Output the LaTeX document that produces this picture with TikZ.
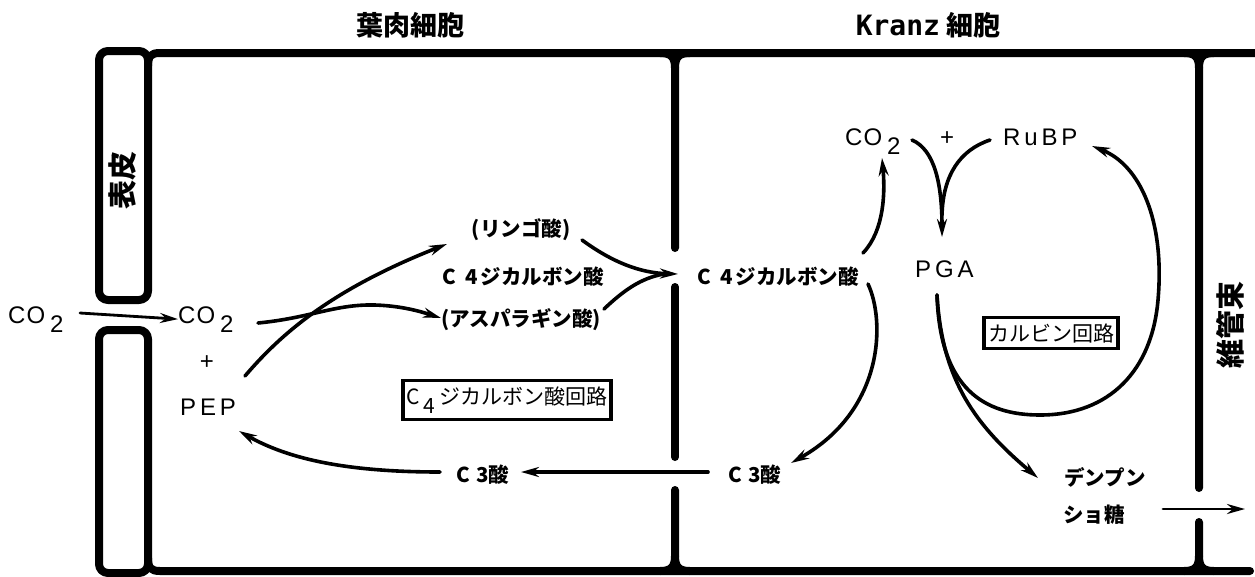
\documentclass[tikz,border=0pt]{standalone}
\usepackage{fontspec}
\usetikzlibrary{arrows.meta}
\setmainfont{Liberation Sans}
\newfontfamily\jp{Noto Sans CJK JP}
\newfontfamily\lat[LetterSpace=16]{Liberation Sans}
\newfontfamily\monob{DejaVu Sans Mono Bold}
\newcommand\cotwo{C\kern1pt O\kern5pt\raisebox{-9pt}{2}}
\begin{document}
\begin{tikzpicture}[x=1pt,y=-1pt,
  wall/.style={line width=8pt, line cap=round, line join=round},
  arr/.style={line width=3.6pt, line cap=round, -{Stealth[length=18pt,width=10pt]}},
  ln/.style={line width=3.6pt, line cap=round},
  jlbl/.style={font=\jp\bfseries\fontsize{20.5}{20.5}\selectfont, inner sep=0pt},
  latin/.style={font=\lat\fontsize{24}{24}\selectfont, inner sep=0pt},
  title/.style={font=\jp\bfseries\fontsize{27}{27}\selectfont, inner sep=0pt},
  vlbl/.style={font=\jp\bfseries\fontsize{29}{29}\selectfont, inner sep=0pt, rotate=90},
  boxed/.style={draw, line width=3.6pt, inner xsep=4pt, inner ysep=6pt, font=\jp\fontsize{21}{21}\selectfont}]
\useasboundingbox (0,0) rectangle (1255,576);
% epidermis
\draw[wall, rounded corners=9pt] (99,51) rectangle (148,300);
\draw[wall, rounded corners=9pt] (99,330) rectangle (148,573);
% top and bottom cell lines
\draw[wall] (148,66) .. controls (148,56) and (151,53) .. (160,53) -- (1258,53);
\draw[wall] (148,558) .. controls (148,568) and (151,571) .. (160,571) -- (1250,571);
% wall between mesophyll and Kranz
\draw[wall] (675,248) -- (675,68) .. controls (675,57) and (671,53) .. (660,53);
\draw[wall] (675,68) .. controls (675,57) and (679,53) .. (690,53);
\draw[wall] (675,287) -- (675,457);
\draw[wall] (675,490) -- (675,556) .. controls (675,567) and (671,571) .. (660,571);
\draw[wall] (675,556) .. controls (675,567) and (679,571) .. (690,571);
% wall to vascular bundle
\draw[wall] (1199,488) -- (1199,68) .. controls (1199,57) and (1195,53) .. (1184,53);
\draw[wall] (1199,68) .. controls (1199,57) and (1203,53) .. (1214,53);
\draw[wall] (1199,522) -- (1199,556) .. controls (1199,567) and (1195,571) .. (1184,571);
\draw[wall] (1199,556) .. controls (1199,567) and (1203,571) .. (1214,571);

% titles
\node[title] (t1) at (410,25) {葉肉細胞};
\node[title] (t2) at (928,25) {{\monob\fontsize{28}{28}\selectfont Kranz} 細胞};
\node[vlbl] (hyo) at (123,180) {表皮};
\node[vlbl] (ikan) at (1230,325) {維管束};

% mesophyll nodes
\node[latin, anchor=base west] (co2L) at (8,323) {\cotwo};
\node[latin, anchor=base west] (co2M) at (178,323) {\cotwo};
\node[latin] (plus1) at (207,363) {+};
\node[latin, anchor=base west] (pep) at (180,415) {PEP};
\node[jlbl] (ringo) at (521,230) {(リンゴ酸)};
\node[jlbl] (c4m) at (523,277) {C\kern9pt 4\kern3pt ジカルボン酸};
\node[jlbl] (asp) at (521,320) {(アスパラギン酸)};
\node[boxed] (c4box) at (507,400) {C\raisebox{-9pt}{\kern3pt 4}\kern4pt ジカルボン酸回路};
\node[jlbl] (c3m) at (483,475) {C\kern6pt 3酸};

% Kranz nodes
\node[jlbl] (c4k) at (778,277) {C\kern9pt 4\kern3pt ジカルボン酸};
\node[latin, anchor=base west] (co2K) at (845,145) {\cotwo};
\node[latin] (plus2) at (947,139) {+};
\node[latin, anchor=base west] (rubp) at (1003,145) {RuBP};
\node[latin, anchor=base west] (pga) at (915,277) {PGA};
\node[boxed] (calbox) at (1051,333) {カルビン回路};
\node[jlbl] (c3k) at (755,475) {C\kern6pt 3酸};
\node[jlbl] (denp) at (1105,477) {デンプン};
\node[jlbl] (shoto) at (1094,515) {ショ糖};

% connector end points
\coordinate (a1s) at (80,313);
\coordinate (a2s) at (258,323);
\coordinate (a2e) at (441,318);
\coordinate (a3s) at (245,376);
\coordinate (a3e) at (447,244);
\coordinate (a4s) at (582,240);
\coordinate (a4e) at (678,274);
\coordinate (a5s) at (604,309);
\coordinate (a6s) at (863,253);
\coordinate (a6e) at (882,158);
\coordinate (a7s) at (912,140);
\coordinate (a7e) at (942,237);
\coordinate (a8s) at (990,140);
\coordinate (a9s) at (868,284);
\coordinate (a9e) at (791,463);
\coordinate (a10s) at (708,472);
\coordinate (a10e) at (521,472);
\coordinate (a11s) at (440,472);
\coordinate (a11e) at (239,431);
\coordinate (a12s) at (937,295);
\coordinate (a12e) at (1092,146);
\coordinate (a13e) at (1038,478);
\coordinate (out1) at (1163,509);
\coordinate (out2) at (1245,509);

% connectors
\draw[arr, line width=2.8pt] (a1s) -- (co2M.west);
\draw[arr] (a2s) .. controls (310,318) and (335,304) .. (375,305) .. controls (405,306) and (425,313) .. (a2e);
\draw[arr] (a3s) .. controls (280,335) and (330,290) .. (a3e);
\draw[arr] (a4s) .. controls (612,262) and (640,273) .. (a4e);
\draw[ln] (a5s) .. controls (622,292) and (640,278) .. (664,274);
\draw[arr] (a6s) .. controls (885,230) and (885,190) .. (a6e);
\draw[arr] (a7s) .. controls (935,150) and (942,185) .. (a7e);
\draw[ln] (a8s) .. controls (960,150) and (943,175) .. (942,215);
\draw[arr] (a9s) .. controls (885,320) and (885,410) .. (a9e);
\draw[arr] (a10s) -- (a10e);
\draw[arr] (a11s) .. controls (350,472) and (290,460) .. (a11e);
\draw[arr] (a12s) .. controls (940,390) and (985,415) .. (1040,415)
   .. controls (1110,415) and (1152,370) .. (1158,300)
   .. controls (1165,220) and (1140,165) .. (a12e);
\draw[arr] (a12s) .. controls (942,380) and (975,425) .. (a13e);
\draw[arr, line width=2.8pt] (out1) -- (out2);
\end{tikzpicture}
\end{document}
